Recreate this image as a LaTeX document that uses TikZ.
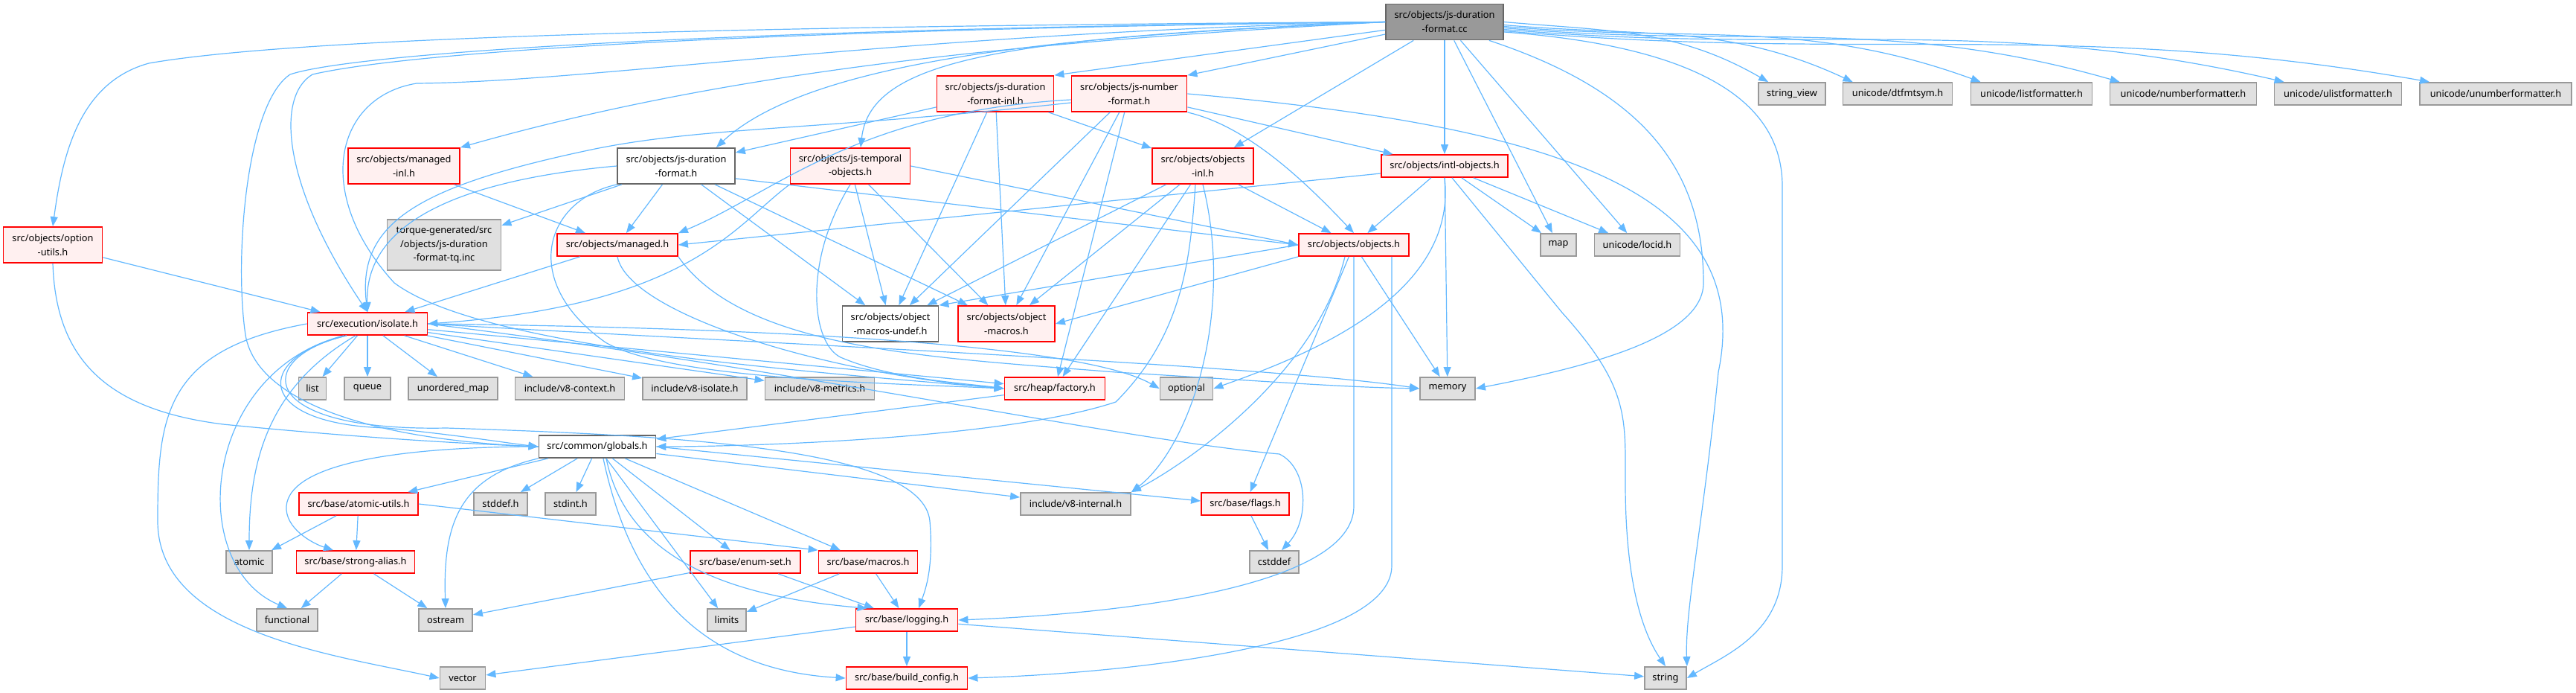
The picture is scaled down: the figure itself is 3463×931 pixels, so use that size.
\documentclass[tikz,border=0pt]{standalone}
\usepackage{fontspec}
\setmainfont{Noto Sans}
\usetikzlibrary{arrows.meta}
\definecolor{edgeblue}{HTML}{63B8FF}
\definecolor{hdrline}{HTML}{FF0000}
\definecolor{hdrfill}{HTML}{FFF0F0}
\definecolor{sysline}{HTML}{999999}
\definecolor{sysfill}{HTML}{E0E0E0}
\definecolor{plainline}{HTML}{666666}
\definecolor{rootfill}{HTML}{999999}

\tikzset{
  file/.style={draw, line width=0.9pt, inner xsep=2pt, inner ysep=1pt,
    minimum height=15pt, align=center, font=\fontsize{6.4}{9.3}\selectfont},
  hdr/.style={file, draw=hdrline, fill=hdrfill},
  sys/.style={file, draw=sysline, fill=sysfill},
  plainhdr/.style={file, draw=plainline, fill=white},
  rootfile/.style={file, draw=plainline, fill=rootfill},
  twoline/.style={minimum height=24pt},
  threeline/.style={minimum height=34pt},
  bw/.style={minimum width=#1*0.5pt},
  dep/.style={draw=edgeblue, line width=0.6pt, -{Triangle[length=6.5pt,width=5pt]}}
}

\begin{document}
\begin{tikzpicture}[x=0.5pt,y=-0.5pt]
  \useasboundingbox (0,0) rectangle (3463,931);

  % files, row by row
  \node[rootfile,twoline,bw=158] (root) at (1942,29.5) {src/objects/js-duration\\-format.cc};

  \node[hdr,twoline,bw=157] (jsdfinl) at (1338,126) {src/objects/js-duration\\-format-inl.h};
  \node[hdr,twoline,bw=155] (jsnf) at (1518,126) {src/objects/js-number\\-format.h};
  \node[sys,bw=90] (strview) at (2409,126) {string\_view};
  \node[sys,bw=147] (dtfmt) at (2551,126) {unicode/dtfmtsym.h};
  \node[sys,bw=163] (listfmt) at (2731,126) {unicode/listformatter.h};
  \node[sys,bw=197] (numfmt) at (2935,126) {unicode/numberformatter.h};
  \node[sys,bw=171] (ulistfmt) at (3143,126) {unicode/ulistformatter.h};
  \node[sys,bw=204] (unumfmt) at (3355,126) {unicode/unumberformatter.h};

  \node[hdr,twoline,bw=150] (mgdinl) at (543,223) {src/objects/managed\\-inl.h};
  \node[plainhdr,twoline,bw=158] (jsdf) at (909,223) {src/objects/js-duration\\-format.h};
  \node[hdr,twoline,bw=161] (jstemp) at (1143,223) {src/objects/js-temporal\\-objects.h};
  \node[hdr,twoline,bw=136] (objinl) at (1617,223) {src/objects/objects\\-inl.h};
  \node[hdr,bw=170] (intl) at (1942,223) {src/objects/intl-objects.h};

  \node[hdr,twoline,bw=133] (optutil) at (71,329) {src/objects/option\\-utils.h};
  \node[sys,threeline,bw=153] (torque) at (597,329) {torque-generated/src\\/objects/js-duration\\-format-tq.inc};
  \node[hdr,bw=162] (managed) at (830,329) {src/objects/managed.h};
  \node[hdr,bw=148] (objects) at (1820,329) {src/objects/objects.h};
  \node[sys,bw=48] (map) at (2095,329) {map};
  \node[sys,bw=115] (locid) at (2201,329) {unicode/locid.h};

  \node[hdr,bw=161] (isolate) at (494,435) {src/execution/isolate.h};
  \node[plainhdr,twoline,bw=129] (undef) at (1197,435) {src/objects/object\\-macros-undef.h};
  \node[hdr,twoline,bw=130] (objmac) at (1353,435) {src/objects/object\\-macros.h};

  \node[sys,bw=37] (list) at (420,522) {list};
  \node[sys,bw=62] (queue) at (494,522) {queue};
  \node[sys,bw=120] (umap) at (609,522) {unordered\_map};
  \node[sys,bw=147] (v8ctx) at (766,522) {include/v8-context.h};
  \node[sys,bw=140] (v8iso) at (934,522) {include/v8-isolate.h};
  \node[sys,bw=147] (v8met) at (1102,522) {include/v8-metrics.h};
  \node[hdr,bw=135] (factory) at (1418,522) {src/heap/factory.h};
  \node[sys,bw=71] (optional) at (1595,522) {optional};
  \node[sys,bw=74] (memory) at (1946,522) {memory};

  \node[plainhdr,bw=157] (globals) at (803,600) {src/common/globals.h};

  \node[hdr,bw=160] (atomutil) at (482,677) {src/base/atomic-utils.h};
  \node[sys,bw=72] (stddef) at (673,677) {stddef.h};
  \node[sys,bw=68] (stdint) at (767,677) {stdint.h};
  \node[sys,bw=148] (v8int) at (1446,677) {include/v8-internal.h};
  \node[hdr,bw=118] (flags) at (1674,677) {src/base/flags.h};

  \node[sys,bw=62] (atomic) at (335,755) {atomic};
  \node[hdr,bw=159] (stralias) at (478,755) {src/base/strong-alias.h};
  \node[hdr,bw=148] (enumset) at (1002,755) {src/base/enum-set.h};
  \node[hdr,bw=133] (basemac) at (1167,755) {src/base/macros.h};
  \node[sys,bw=66] (cstddef) at (1713,755) {cstddef};

  \node[sys,bw=82] (functional) at (386,833) {functional};
  \node[sys,bw=72] (ostream) at (599,833) {ostream};
  \node[sys,bw=52] (limits) at (977,833) {limits};
  \node[hdr,bw=137] (logging) at (1219,833) {src/base/logging.h};

  \node[sys,bw=61] (vector) at (622,911) {vector};
  \node[hdr,bw=163] (buildcfg) at (1219,911) {src/base/build\_config.h};
  \node[sys,bw=56] (string) at (2239,911) {string};

  % straight includes
  \foreach \a/\b in {root/objinl, root/intl, root/map, root/locid,
      jsdfinl/jsdf, jsdfinl/objinl, jsdfinl/undef, jsdfinl/objmac,
      jsnf/intl, jsnf/undef, jsnf/objmac, jsnf/factory,
      mgdinl/managed, jsdf/torque, jsdf/managed, jsdf/undef, jsdf/objmac,
      jstemp/undef, jstemp/objmac, objinl/objects, objinl/undef,
      objinl/objmac, objinl/factory, intl/objects, intl/map, intl/locid,
      intl/memory, optutil/isolate, managed/isolate, objects/memory,
      objects/flags, isolate/list, isolate/queue, isolate/umap,
      isolate/v8ctx, isolate/v8iso, isolate/v8met, isolate/factory,
      factory/globals, globals/atomutil, globals/stddef, globals/stdint,
      globals/enumset, globals/basemac, globals/limits, globals/v8int,
      atomutil/atomic, atomutil/stralias, stralias/functional,
      stralias/ostream, enumset/ostream, enumset/logging, basemac/limits,
      basemac/logging, logging/vector, logging/string, logging/buildcfg,
      flags/cstddef}
    \draw[dep] (\a) -- (\b);

  \draw[dep] (root) -- (jsdfinl.north east);
  \draw[dep] (root) -- (jsnf.north east);
  \draw[dep] ([yshift=4pt]jsdf.south east) -- (objects.west);
  \draw[dep] (jstemp.east) -- (objects.west);
  \draw[dep] ([yshift=-5pt]intl.west) -- (managed.east);
  \draw[dep] (objects.west) -- (undef.north east);
  \draw[dep] (objects.south west) -- (objmac.east);
  \draw[dep] (globals.east) -- ([yshift=2pt]flags.west);
  \draw[dep] (atomutil.east) -- (basemac.north west);

  % root to the unicode row
  \foreach \t/\dy/\ang in {strview/0/150, dtfmt/-2/155, listfmt/-3/160,
      numfmt/-4/164, ulistfmt/-5/167, unumfmt/-6/170}
    \draw[dep] ([yshift=\dy pt]root.east) to[out=-5,in=\ang] ([xshift=7pt]\t.north west);

  % long curves from the root
  \draw[dep] (root.west) .. controls (1000,35) and (400,50) .. (200,85)
    .. controls (110,110) and (85,200) .. (optutil.north);
  \draw[dep] (root.west) .. controls (1000,40) and (550,70) .. (420,100)
    .. controls (370,130) and (380,250) .. (isolate.north);
  \draw[dep] (root.west) .. controls (1000,38) and (480,70) .. (390,100)
    .. controls (330,140) and (315,350) .. (330,450)
    .. controls (345,540) and (500,590) .. (globals.west);
  \draw[dep] (root.west) .. controls (1200,45) and (800,110) .. (560,112)
    .. controls (450,130) and (420,260) .. (530,380)
    .. controls (650,470) and (1100,500) .. (factory.west);
  \draw[dep] (root.west) .. controls (1400,55) and (1000,90) .. (mgdinl.north east);
  \draw[dep] (root.west) .. controls (1500,45) and (1100,70) .. ([xshift=-13pt]jsdf.north east);
  \draw[dep] (root.west) .. controls (1350,50) and (1170,80) .. ([xshift=7pt]jstemp.north);
  \draw[dep] ([xshift=-10pt]root.south east) .. controls (2200,120) and (2290,220) .. (2290,380)
    .. controls (2290,450) and (2150,490) .. (memory.east);
  \draw[dep] ([yshift=-6.75pt]root.east) .. controls (2250,60) and (2396,120) .. (2396,250)
    -- (2396,760) .. controls (2396,850) and (2320,880) .. (string.east);

  % second level curves
  \draw[dep] ([yshift=-6pt]jsnf.west) .. controls (1100,175) and (950,170) .. (800,200)
    .. controls (560,250) and (480,300) .. (isolate.north);
  \draw[dep] ([yshift=-4pt]jsnf.west) .. controls (1150,150) and (1040,260) .. (managed.north east);
  \draw[dep] (jsnf.south east) .. controls (1680,170) and (1760,250) .. (objects.north);
  \draw[dep] (jsnf.east) .. controls (2100,170) and (2360,260) .. (2310,500)
    .. controls (2290,700) and (2265,820) .. (string.north east);
  \draw[dep] (jsdf.west) .. controls (640,240) and (490,290) .. (isolate.north);
  \draw[dep] (jsdf.south west) .. controls (730,270) and (700,380) .. (814,460)
    .. controls (900,510) and (1200,515) .. (factory.west);
  \draw[dep] (jstemp.south west) .. controls (990,300) and (930,410) .. (isolate.east);
  \draw[dep] (jstemp.south) .. controls (1080,350) and (1090,460) .. (1130,480)
    .. controls (1200,510) and (1300,515) .. (factory.west);
  \draw[dep] (managed.south) .. controls (845,420) and (1100,500) .. (factory.west);
  \draw[dep] (managed.south east) .. controls (1000,470) and (1250,480) .. (1500,500)
    .. controls (1700,512) and (1800,520) .. (memory.west);
  \draw[dep] ([xshift=-5pt]objinl.south) .. controls (1600,350) and (1590,450) .. (1500,540)
    .. controls (1350,590) and (1000,600) .. (globals.east);
  \draw[dep] (objinl.south) .. controls (1660,420) and (1600,600) .. (v8int.north east);
  \draw[dep] (intl.south) .. controls (1960,400) and (1750,480) .. (optional.east);
  \draw[dep] ([xshift=5pt]intl.south) -- (2100,420) .. controls (2190,520) and (2185,560) .. (2185,650)
    .. controls (2185,800) and (2215,860) .. (string.north);
  \draw[dep] ([xshift=-6pt]objects.south) .. controls (1770,500) and (1600,620) .. (v8int.north east);
  \draw[dep] (objects.south) -- (1820,680) .. controls (1820,790) and (1500,825) .. (logging.east);
  \draw[dep] ([xshift=25.5pt]objects.south) -- (1871,760) .. controls (1871,870) and (1500,905) .. (buildcfg.east);

  % from isolate.h and the option utils
  \draw[dep] (optutil.south) .. controls (75,480) and (140,550) .. (300,570)
    .. controls (500,590) and (650,597) .. (globals.west);
  \draw[dep] ([xshift=-14pt]isolate.south) .. controls (340,480) and (340,570) .. (520,575)
    .. controls (620,585) and (680,595) .. (globals.west);
  \draw[dep] ([xshift=-14pt]isolate.south) .. controls (340,480) and (340,580) .. (600,575)
    .. controls (900,585) and (1240,600) .. (1250,700)
    .. controls (1255,760) and (1245,790) .. ([xshift=8pt]logging.north);
  \draw[dep] ([xshift=-8pt]isolate.south) .. controls (360,520) and (335,620) .. (atomic.north);
  \draw[dep] ([xshift=-16pt]isolate.south) .. controls (270,500) and (250,760) .. (functional.north);
  \draw[dep] (isolate.west) .. controls (220,470) and (212,560) .. (212,700)
    .. controls (212,850) and (450,880) .. (vector.west);
  \draw[dep] (isolate.east) .. controls (1000,440) and (1450,460) .. (optional.west);
  \draw[dep] (isolate.east) .. controls (1000,460) and (1700,490) .. (memory.west);
  \draw[dep] (isolate.east) .. controls (1100,500) and (1500,590) .. (1720,610)
    .. controls (1760,630) and (1760,700) .. ([xshift=5pt]cstddef.north);

  % from globals.h downwards
  \draw[dep] (globals.west) .. controls (550,600) and (390,620) .. (385,680)
    .. controls (383,710) and (420,730) .. ([xshift=-15pt]stralias.north);
  \draw[dep] (globals.south west) .. controls (620,640) and (595,700) .. (ostream.north);
  \draw[dep] ([xshift=6pt]globals.south) .. controls (840,740) and (960,800) .. ([xshift=8pt]logging.north west);
  \draw[dep] ([xshift=4pt]globals.south) .. controls (850,800) and (950,900) .. (buildcfg.west);
\end{tikzpicture}
\end{document}
